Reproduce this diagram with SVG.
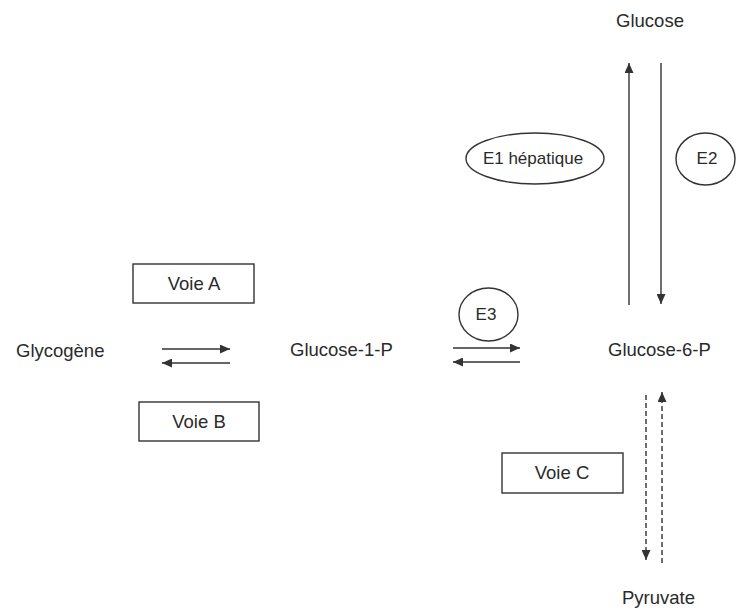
<svg xmlns="http://www.w3.org/2000/svg" width="744" height="610" viewBox="0 0 744 610">
<style>
text{font-family:"Liberation Sans",Arial,sans-serif;fill:#2a2a2a;font-size:18.5px}
.lbl{text-anchor:middle}
.sm{font-size:17px}
.box{fill:none;stroke:#333;stroke-width:1.4}
.ln{stroke:#333;stroke-width:1.4;fill:none;marker-end:url(#ah)}
.dash{stroke-dasharray:5,3}
</style>
<defs>
<marker id="ah" markerUnits="userSpaceOnUse" markerWidth="10" markerHeight="9" refX="10" refY="4.5" orient="auto">
<path d="M0,0 L10,4.5 L0,9 z" fill="#333"/>
</marker>
</defs>
<rect width="744" height="610" fill="#fff"/>
<g id="glucose"><text class="lbl" x="650" y="27">Glucose</text></g>
<g id="glycogene"><text x="16" y="357">Glycogène</text></g>
<g id="g1p"><text x="290" y="356">Glucose-1-P</text></g>
<g id="g6p"><text x="608" y="356">Glucose-6-P</text></g>
<g id="pyruvate"><text x="622" y="604">Pyruvate</text></g>
<g id="e1"><ellipse class="box" cx="535" cy="158.5" rx="69" ry="25.5"/><text class="lbl sm" x="533" y="164">E1 hépatique</text></g>
<g id="e2"><ellipse class="box" cx="705.5" cy="159" rx="29.5" ry="26"/><text class="lbl sm" x="707" y="164">E2</text></g>
<g id="e3"><ellipse class="box" cx="488.5" cy="314.5" rx="29.5" ry="26.5"/><text class="lbl sm" x="486" y="320">E3</text></g>
<g id="voieA"><rect class="box" x="133" y="264" width="121" height="39"/><text class="lbl" x="194" y="290">Voie A</text></g>
<g id="voieB"><rect class="box" x="139" y="402" width="120" height="39"/><text class="lbl" x="199" y="428">Voie B</text></g>
<g id="voieC"><rect class="box" x="502" y="453" width="121" height="40"/><text class="lbl" x="562" y="479">Voie C</text></g>
<g id="connectors">
<line class="ln" x1="629" y1="305" x2="629" y2="63"/>
<line class="ln" x1="661" y1="63" x2="661" y2="304"/>
<line class="ln" x1="162" y1="349" x2="230" y2="349"/>
<line class="ln" x1="230" y1="363" x2="162" y2="363"/>
<line class="ln" x1="453" y1="348" x2="520" y2="348"/>
<line class="ln" x1="520" y1="362" x2="453" y2="362"/>
<line class="ln dash" x1="646" y1="395" x2="646" y2="560"/>
<line class="ln dash" x1="662" y1="563" x2="662" y2="392"/>
</g>
</svg>
